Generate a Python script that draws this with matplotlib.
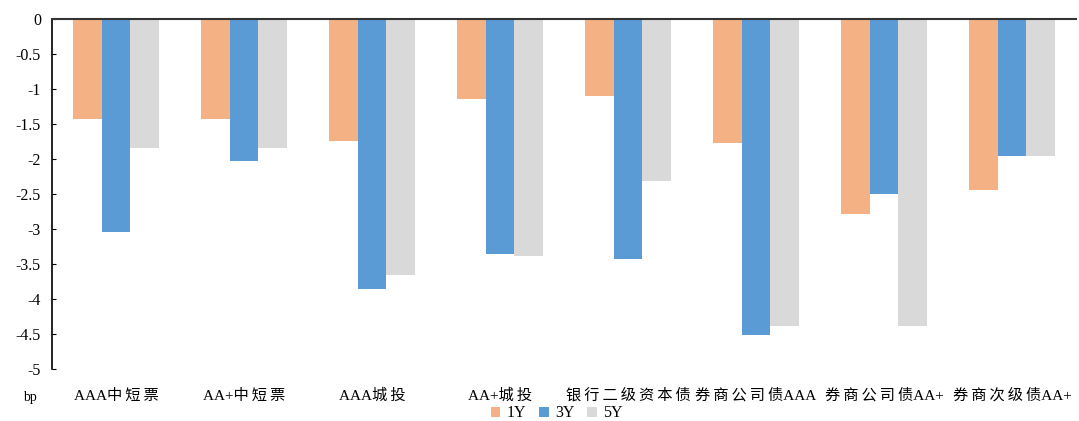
import matplotlib.pyplot as plt
import numpy as np

plt.rcParams['font.family'] = ['Liberation Serif', 'Noto Sans CJK SC']
plt.rcParams['axes.unicode_minus'] = False

# 数据
categories = ['AAA中短票', 'AA+中短票', 'AAA城投', 'AA+城投', '银行二级资本债',
              '券商公司债AAA', '券商公司债AA+', '券商次级债AA+']
y1 = [-1.43, -1.43, -1.74, -1.14, -1.10, -1.77, -2.78, -2.44]
y3 = [-3.04, -2.02, -3.86, -3.35, -3.43, -4.51, -2.49, -1.95]
y5 = [-1.84, -1.84, -3.66, -3.38, -2.31, -4.39, -4.38, -1.95]
series_names = ['1Y', '3Y', '5Y']
colors = ['#F4B183', '#5B9BD5', '#D9D9D9']


def spaced(s):
    # 中文字符之间加细空格，模仿宋体的字距
    out = ''
    for i, ch in enumerate(s):
        out += ch
        if i + 1 < len(s) and ord(ch) > 0x2E80 and ord(s[i + 1]) > 0x2E80:
            out += '\u2009'
    return out


fig = plt.figure(figsize=(10.79, 4.21), dpi=100)
ax = fig.add_axes([0.0482, 0.1235, 0.949, 0.8302])

x = np.arange(len(categories))
w = 0.225
for i, (vals, name, c) in enumerate(zip([y1, y3, y5], series_names, colors)):
    ax.bar(x + (i - 1) * w, vals, width=w, color=c, label=name)

ax.set_xlim(-0.5, len(categories) - 0.5)
ax.set_ylim(-5, 0)
ax.set_yticks(np.arange(-5, 0.01, 0.5))
ax.set_yticklabels(['%g' % v for v in np.arange(-5, 0.01, 0.5)])
ax.set_xticks(x)
ax.set_xticklabels([spaced(c) for c in categories], fontsize=11)
ax.tick_params(axis='x', length=0, pad=14)
ax.tick_params(axis='y', direction='in', length=3, labelsize=11.5, pad=8)

for s in ['right', 'bottom']:
    ax.spines[s].set_visible(False)
ax.spines['left'].set_linewidth(1.2)
ax.spines['top'].set_linewidth(1.5)
ax.spines['top'].set_color('#333333')

fig.text(0.028, 0.057, 'bp', fontsize=10, ha='center', va='center')

fig.legend(loc='lower center', bbox_to_anchor=(0.516, -0.035), ncol=3, frameon=False,
           handlelength=0.6, handleheight=0.6, handletextpad=0.4, columnspacing=0.8,
           fontsize=11.5)

plt.savefig('out.png', dpi=100)
